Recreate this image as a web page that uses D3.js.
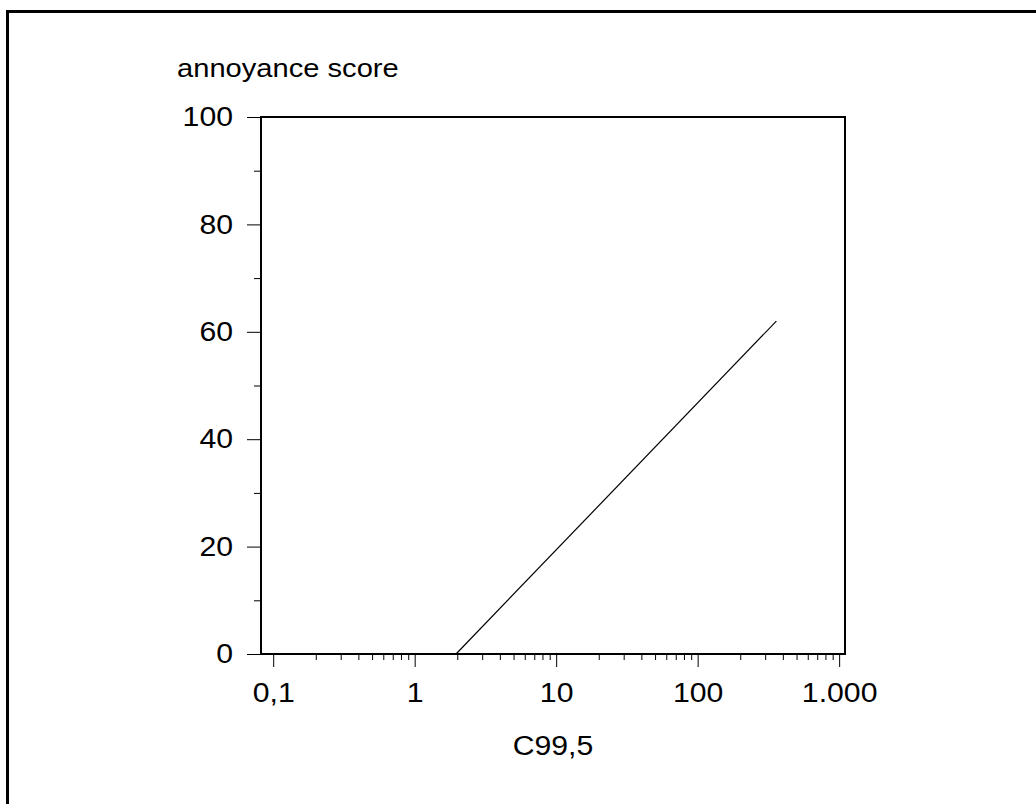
<!DOCTYPE html>
<html>
<head>
  <script src="https://cdn.jsdelivr.net/npm/d3@7"></script>
  <style>
    body { margin: 0; background: #fff; }
    svg { display: block; }
    text { font-family: "Liberation Sans", Arial, sans-serif; fill: #000; }
  </style>
</head>
<body>
  <script>
    // data
    const xValues = [1.96, 360];
    const yValues = [0, 62];
    const xTickValues = [0.1, 1, 10, 100, 1000];
    const xTickLabels = ["0,1", "1", "10", "100", "1.000"];
    const yTickValues = [0, 20, 40, 60, 80, 100];
    const yMinorTicks = [10, 30, 50, 70, 90];

    const w = 1036, h = 804;
    const plotLeft = 261, plotRight = 845, plotTop = 117, plotBottom = 654;
    const stretch = 1.12; // the original lettering is a bit wider than Arial

    const svg = d3.select("body").append("svg")
      .attr("width", w)
      .attr("height", h);

    // outer frame (only left and top visible)
    svg.append("rect")
      .attr("x", 7.5).attr("y", 11.5)
      .attr("width", w + 20).attr("height", h + 20)
      .attr("fill", "none")
      .attr("stroke", "#000")
      .attr("stroke-width", 3);

    const xScale = d3.scaleLog()
      .domain([0.082, 1100])
      .range([plotLeft, plotRight]);

    const yScale = d3.scaleLinear()
      .domain([0, 100])
      .range([plotBottom, plotTop]);

    // plot box
    svg.append("rect")
      .attr("x", plotLeft).attr("y", plotTop)
      .attr("width", plotRight - plotLeft).attr("height", plotBottom - plotTop)
      .attr("fill", "none")
      .attr("stroke", "#000")
      .attr("stroke-width", 2);

    // minor x ticks 2..9 per decade
    const xMinor = [];
    [0.1, 1, 10, 100].forEach(function (d) {
      for (let i = 2; i <= 9; i++) xMinor.push(d * i);
    });
    svg.append("g")
      .attr("transform", "translate(0," + plotBottom + ")")
      .call(d3.axisBottom(xScale).tickValues(xMinor).tickSize(6).tickFormat(""))
      .call(function (g) { g.select(".domain").remove(); });

    // major x ticks
    svg.append("g")
      .attr("transform", "translate(0," + plotBottom + ")")
      .call(d3.axisBottom(xScale).tickValues(xTickValues).tickSize(13).tickPadding(16)
        .tickFormat(function (d, i) { return xTickLabels[i]; }))
      .call(function (g) {
        g.select(".domain").remove();
        g.selectAll("text")
          .attr("font-size", 27)
          .attr("font-family", "Liberation Sans, Arial, sans-serif")
          .attr("transform", "scale(" + stretch + ",1)");
      });

    // y ticks
    svg.append("g")
      .attr("transform", "translate(" + plotLeft + ",0)")
      .call(d3.axisLeft(yScale).tickValues(yMinorTicks).tickSize(7).tickFormat(""))
      .call(function (g) { g.select(".domain").remove(); });

    svg.append("g")
      .attr("transform", "translate(" + plotLeft + ",0)")
      .call(d3.axisLeft(yScale).tickValues(yTickValues).tickSize(14).tickPadding(14))
      .call(function (g) {
        g.select(".domain").remove();
        g.selectAll("text")
          .attr("font-size", 27)
          .attr("font-family", "Liberation Sans, Arial, sans-serif")
          .attr("x", -28 / stretch)
          .attr("transform", "scale(" + stretch + ",1)");
      });

    // the line
    const pts = xValues.map(function (x, i) { return [x, yValues[i]]; });
    svg.append("path")
      .datum(pts)
      .attr("fill", "none")
      .attr("stroke", "#000")
      .attr("stroke-width", 1.2)
      .attr("d", d3.line()
        .x(function (d) { return xScale(d[0]); })
        .y(function (d) { return yScale(d[1]); }));

    // axis titles
    svg.append("text")
      .attr("transform", "translate(177,77) scale(" + stretch + ",1)")
      .attr("font-size", 26)
      .text("annoyance score");

    svg.append("text")
      .attr("transform", "translate(553,755) scale(" + stretch + ",1)")
      .attr("text-anchor", "middle")
      .attr("font-size", 27)
      .text("C99,5");
  </script>
</body>
</html>
